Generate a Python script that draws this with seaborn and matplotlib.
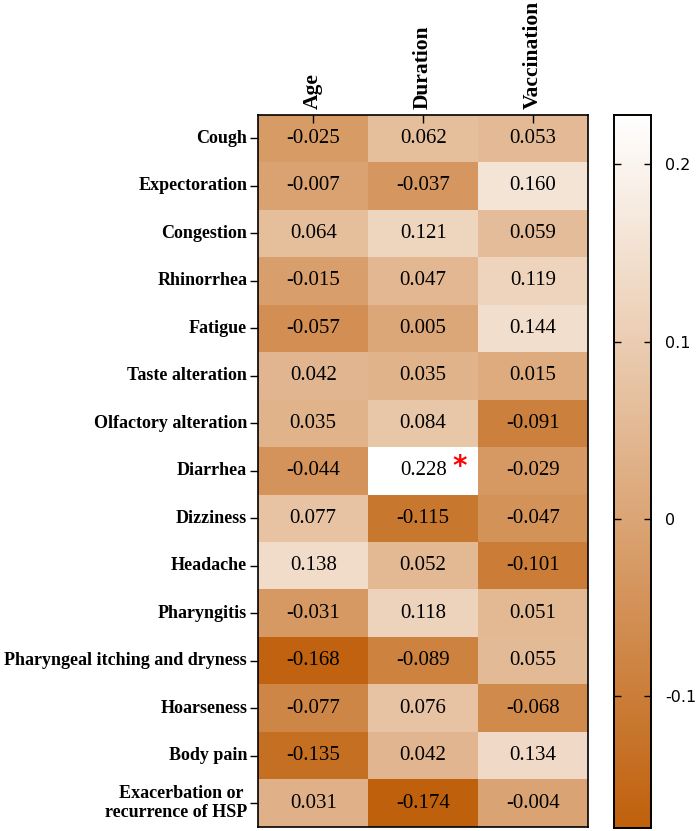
import numpy as np
import pandas as pd
import matplotlib
matplotlib.use('Agg')
import matplotlib.pyplot as plt
import seaborn as sns
from matplotlib.colors import LinearSegmentedColormap

plt.rcParams['axes.unicode_minus'] = False

symptoms = ['Cough', 'Expectoration', 'Congestion', 'Rhinorrhea', 'Fatigue',
            'Taste alteration', 'Olfactory alteration', 'Diarrhea', 'Dizziness',
            'Headache', 'Pharyngitis', 'Pharyngeal itching and dryness',
            'Hoarseness', 'Body pain', 'Exacerbation or \nrecurrence of HSP']
factors = ['Age', 'Duration', 'Vaccination']

age = [-0.025, -0.007, 0.064, -0.015, -0.057, 0.042, 0.035, -0.044, 0.077,
       0.138, -0.031, -0.168, -0.077, -0.135, 0.031]
duration = [0.062, -0.037, 0.121, 0.047, 0.005, 0.035, 0.084, 0.228, -0.115,
            0.052, 0.118, -0.089, 0.076, 0.042, -0.174]
vaccination = [0.053, 0.160, 0.059, 0.119, 0.144, 0.015, -0.091, -0.029,
               -0.047, -0.101, 0.051, 0.055, -0.068, 0.134, -0.004]

df = pd.DataFrame({'Age': age, 'Duration': duration, 'Vaccination': vaccination},
                  index=symptoms)

cmap = LinearSegmentedColormap.from_list('brown_white', ['#bf600c', '#ffffff'])

fig = plt.figure(figsize=(7, 8.31), dpi=100)
ax = fig.add_axes([0.369, 0.005, 0.471, 0.857])
cax = fig.add_axes([0.877, 0.004, 0.053, 0.858])

sns.heatmap(df, ax=ax, cbar_ax=cax, cmap=cmap, annot=True, fmt='.3f',
            annot_kws={'family': 'Liberation Serif', 'size': 15, 'color': 'black'})

# significance mark
ax.text(1.83, 7.42, '*', color='red', fontsize=20, fontweight='bold',
        ha='center', va='center')

# frame round the heatmap
for sp in ax.spines.values():
    sp.set_visible(True)
    sp.set_color('black')
    sp.set_linewidth(1.2)

ax.xaxis.tick_top()
ax.set_xticklabels(factors, rotation=90, fontfamily='Liberation Serif',
                   fontweight='bold', fontsize=15.5, va='bottom')
ax.tick_params(axis='x', top=True, direction='in', length=6, width=1, pad=4)
ax.set_yticklabels(symptoms, rotation=0, fontfamily='Liberation Serif',
                   fontweight='bold', fontsize=13, ha='right')
ax.tick_params(axis='y', left=True, direction='out', length=6, width=1, pad=2)
ax.set_xlabel('')
ax.set_ylabel('')

# colorbar
cax.set_yticks([-0.1, 0, 0.1, 0.2])
cax.set_yticklabels(['-0.1', '0', '0.1', '0.2'])
cax.tick_params(axis='y', left=True, right=True, direction='in', length=5,
                width=1, labelsize=11.5, pad=10)
for sp in cax.spines.values():
    sp.set_visible(True)
    sp.set_color('black')
    sp.set_linewidth(1.2)

fig.savefig('out.png', dpi=100)
